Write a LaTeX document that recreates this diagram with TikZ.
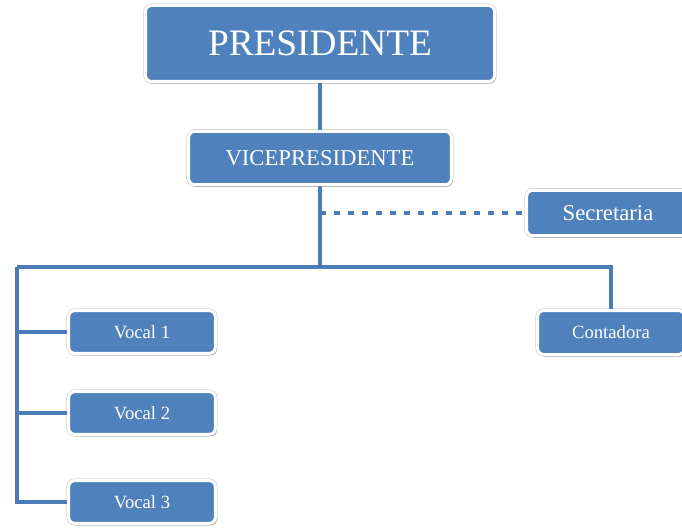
\documentclass[tikz,border=0pt]{standalone}
\usepackage{fontspec}
\setmainfont{Liberation Serif}
\usepackage{tikz}
\usetikzlibrary{shadows}

\definecolor{orgblue}{RGB}{79,129,189}
\definecolor{orgline}{RGB}{74,124,186}
\tikzset{
    orgbox/.style={draw=white, line width=2.25pt, fill=orgblue, rounded corners=4.5pt, text=white, inner sep=0pt, align=center,
        preaction={draw=black!18, line width=3.3pt},
        drop shadow={shadow xshift=1.2pt, shadow yshift=-1.6pt, opacity=0.3, fill=black!70}},
    orglink/.style={draw=orgline, line width=2.4pt},
    orgdash/.style={draw=orgline, line width=2.4pt, dash pattern=on 4.5pt off 6pt},
}

\begin{document}
\begin{tikzpicture}[x=0.75pt,y=0.75pt,yscale=-1,xscale=1]
        \useasboundingbox (0,0) rectangle (682,531);

        \node [orgbox, minimum width=261.75pt, minimum height=57pt, font=\fontsize{28}{31}\selectfont] (pres) at (320,43.5) {PRESIDENTE};
        \node [orgbox, minimum width=197pt, minimum height=40pt, font=\fontsize{17}{20}\selectfont] (vice) at (320,158) {VICEPRESIDENTE};
        \node [orgbox, minimum width=122pt, minimum height=34pt, font=\fontsize{17}{20}\selectfont] (secr) at (608,213) {Secretaria};
        \node [orgbox, minimum width=110pt, minimum height=33pt, font=\fontsize{14}{17}\selectfont] (cont) at (611,332.5) {Contadora};
        \node [orgbox, minimum width=110pt, minimum height=32pt, font=\fontsize{14}{16}\selectfont] (vocA) at (142,332) {Vocal 1};
        \node [orgbox, minimum width=110pt, minimum height=32pt, font=\fontsize{14}{16}\selectfont] (vocB) at (142,413) {Vocal 2};
        \node [orgbox, minimum width=110pt, minimum height=32pt, font=\fontsize{14}{16}\selectfont] (vocC) at (142,502) {Vocal 3};

        \coordinate (bar) at (17,267);

        \begin{scope}[on background layer/.try]
        \draw [orglink] (pres.south) -- (vice.north);
        \draw [orgdash] (vice.south |- secr.west) -- (secr.west);
        \draw [orglink] (vice.south) -- (vice.south |- bar);
        \draw [orglink] (bar) -- (bar -| cont.north) -- (cont.north);
        \draw [orglink] (bar) |- (vocC.west);
        \draw [orglink] (bar |- vocA.west) -- (vocA.west);
        \draw [orglink] (bar |- vocB.west) -- (vocB.west);
        \end{scope}
\end{tikzpicture}
\end{document}
